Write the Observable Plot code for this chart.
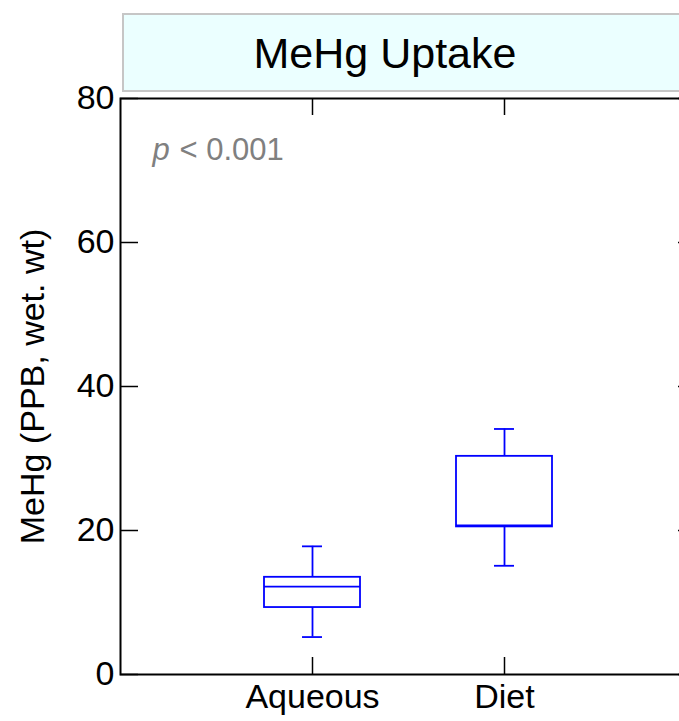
<!DOCTYPE html>
<html><head><meta charset="utf-8">
<script src="https://cdn.jsdelivr.net/npm/d3@7"></script>
<script src="https://cdn.jsdelivr.net/npm/@observablehq/plot@0.6"></script>
<style>
html,body{margin:0;padding:0;overflow:hidden;background:#fff;width:679px;height:721px}
#wrap{position:relative;width:679px;height:721px;overflow:hidden;font-family:"Liberation Sans",Arial,sans-serif}
#wrap svg{position:absolute;left:0;top:0;max-width:none;background:transparent}
#title{position:absolute;left:122px;top:13px;width:620px;height:75px;background:#ebffff;border:2px solid #c6c6c6;z-index:2}
#title span{position:absolute;left:261px;top:1px;transform:translateX(-50%);font-size:43px;line-height:75px;white-space:nowrap;color:#000}
</style></head><body><div id="wrap"></div>
<script>
// ---- data ----
const categories = ["Aqueous", "Diet"];
const positions = [1, 2];
const whiskerLow = [5.2, 15.1];
const q1 = [9.3, 20.5];
const median = [12.2, 20.7];
const q3 = [13.5, 30.3];
const whiskerHigh = [17.8, 34.1];
const yTicks = [0, 20, 40, 60, 80];
const titleText = "MeHg Uptake";
const yLabel = "MeHg (PPB, wet. wt)";
const pLetter = "p";
const pValue = "< 0.001";

const boxes = categories.map((c, i) => ({
  cat: c, pos: positions[i], lo: whiskerLow[i], q1: q1[i], med: median[i], q3: q3[i], hi: whiskerHigh[i]
}));
const halfBox = 0.25, halfCap = 0.052;
const blue = "#0000ff";

const chart = Plot.plot({
  width: 700, height: 721,
  marginLeft: 120, marginRight: 4, marginTop: 98, marginBottom: 47,
  style: {fontFamily: "'Liberation Sans', Arial, sans-serif", background: "transparent", maxWidth: "none"},
  x: {type: "linear", domain: [0, 3], axis: null},
  y: {domain: [0, 80], axis: null},
  marks: [
    // whiskers
    Plot.ruleX(boxes, {x: "pos", y1: "lo", y2: "q1", stroke: blue, strokeWidth: 1.8}),
    Plot.ruleX(boxes, {x: "pos", y1: "q3", y2: "hi", stroke: blue, strokeWidth: 1.8}),
    Plot.ruleY(boxes, {y: "lo", x1: d => d.pos - halfCap, x2: d => d.pos + halfCap, stroke: blue, strokeWidth: 1.8}),
    Plot.ruleY(boxes, {y: "hi", x1: d => d.pos - halfCap, x2: d => d.pos + halfCap, stroke: blue, strokeWidth: 1.8}),
    // boxes
    Plot.rect(boxes, {x1: d => d.pos - halfBox, x2: d => d.pos + halfBox, y1: "q1", y2: "q3", fill: "none", stroke: blue, strokeWidth: 1.8}),
    Plot.ruleY(boxes, {y: "med", x1: d => d.pos - halfBox, x2: d => d.pos + halfBox, stroke: blue, strokeWidth: 1.8}),
    // inward ticks
    Plot.tickY(yTicks, {y: d => d, insetRight: 558, stroke: "black", strokeWidth: 1.5}),
    Plot.tickY(yTicks, {y: d => d, insetLeft: 558, stroke: "black", strokeWidth: 1.5}),
    Plot.tickX(positions, {x: d => d, insetBottom: 559, stroke: "black", strokeWidth: 1.5}),
    Plot.tickX(positions, {x: d => d, insetTop: 559, stroke: "black", strokeWidth: 1.5}),
    Plot.frame({stroke: "black", strokeWidth: 2}),
    // axes labels
    Plot.axisY({ticks: yTicks, tickSize: 0, tickPadding: 6, fontSize: 34, label: null}),
    Plot.axisX({ticks: positions, tickSize: 0, tickPadding: 9, fontSize: 34, label: null,
      tickFormat: d => categories[positions.indexOf(d)] ?? ""}),
    Plot.text([yLabel], {text: d => d, frameAnchor: "left", textAnchor: "middle", lineAnchor: "middle", rotate: -90, dx: -87, fontSize: 34, fill: "black"}),
    // p-value annotation
    Plot.text([pLetter], {text: d => d, frameAnchor: "top-left", textAnchor: "start", lineAnchor: "middle", dx: 32, dy: 52, fontSize: 31, fontStyle: "italic", fill: "#808080"}),
    Plot.text([pValue], {text: d => d, frameAnchor: "top-left", textAnchor: "start", lineAnchor: "middle", dx: 59, dy: 52, fontSize: 31, fill: "#808080"})
  ]
});
const wrap = document.getElementById("wrap");
wrap.appendChild(chart);
const t = document.createElement("div");
t.id = "title";
const s = document.createElement("span");
s.textContent = titleText;
t.appendChild(s);
wrap.appendChild(t);
</script></body></html>
